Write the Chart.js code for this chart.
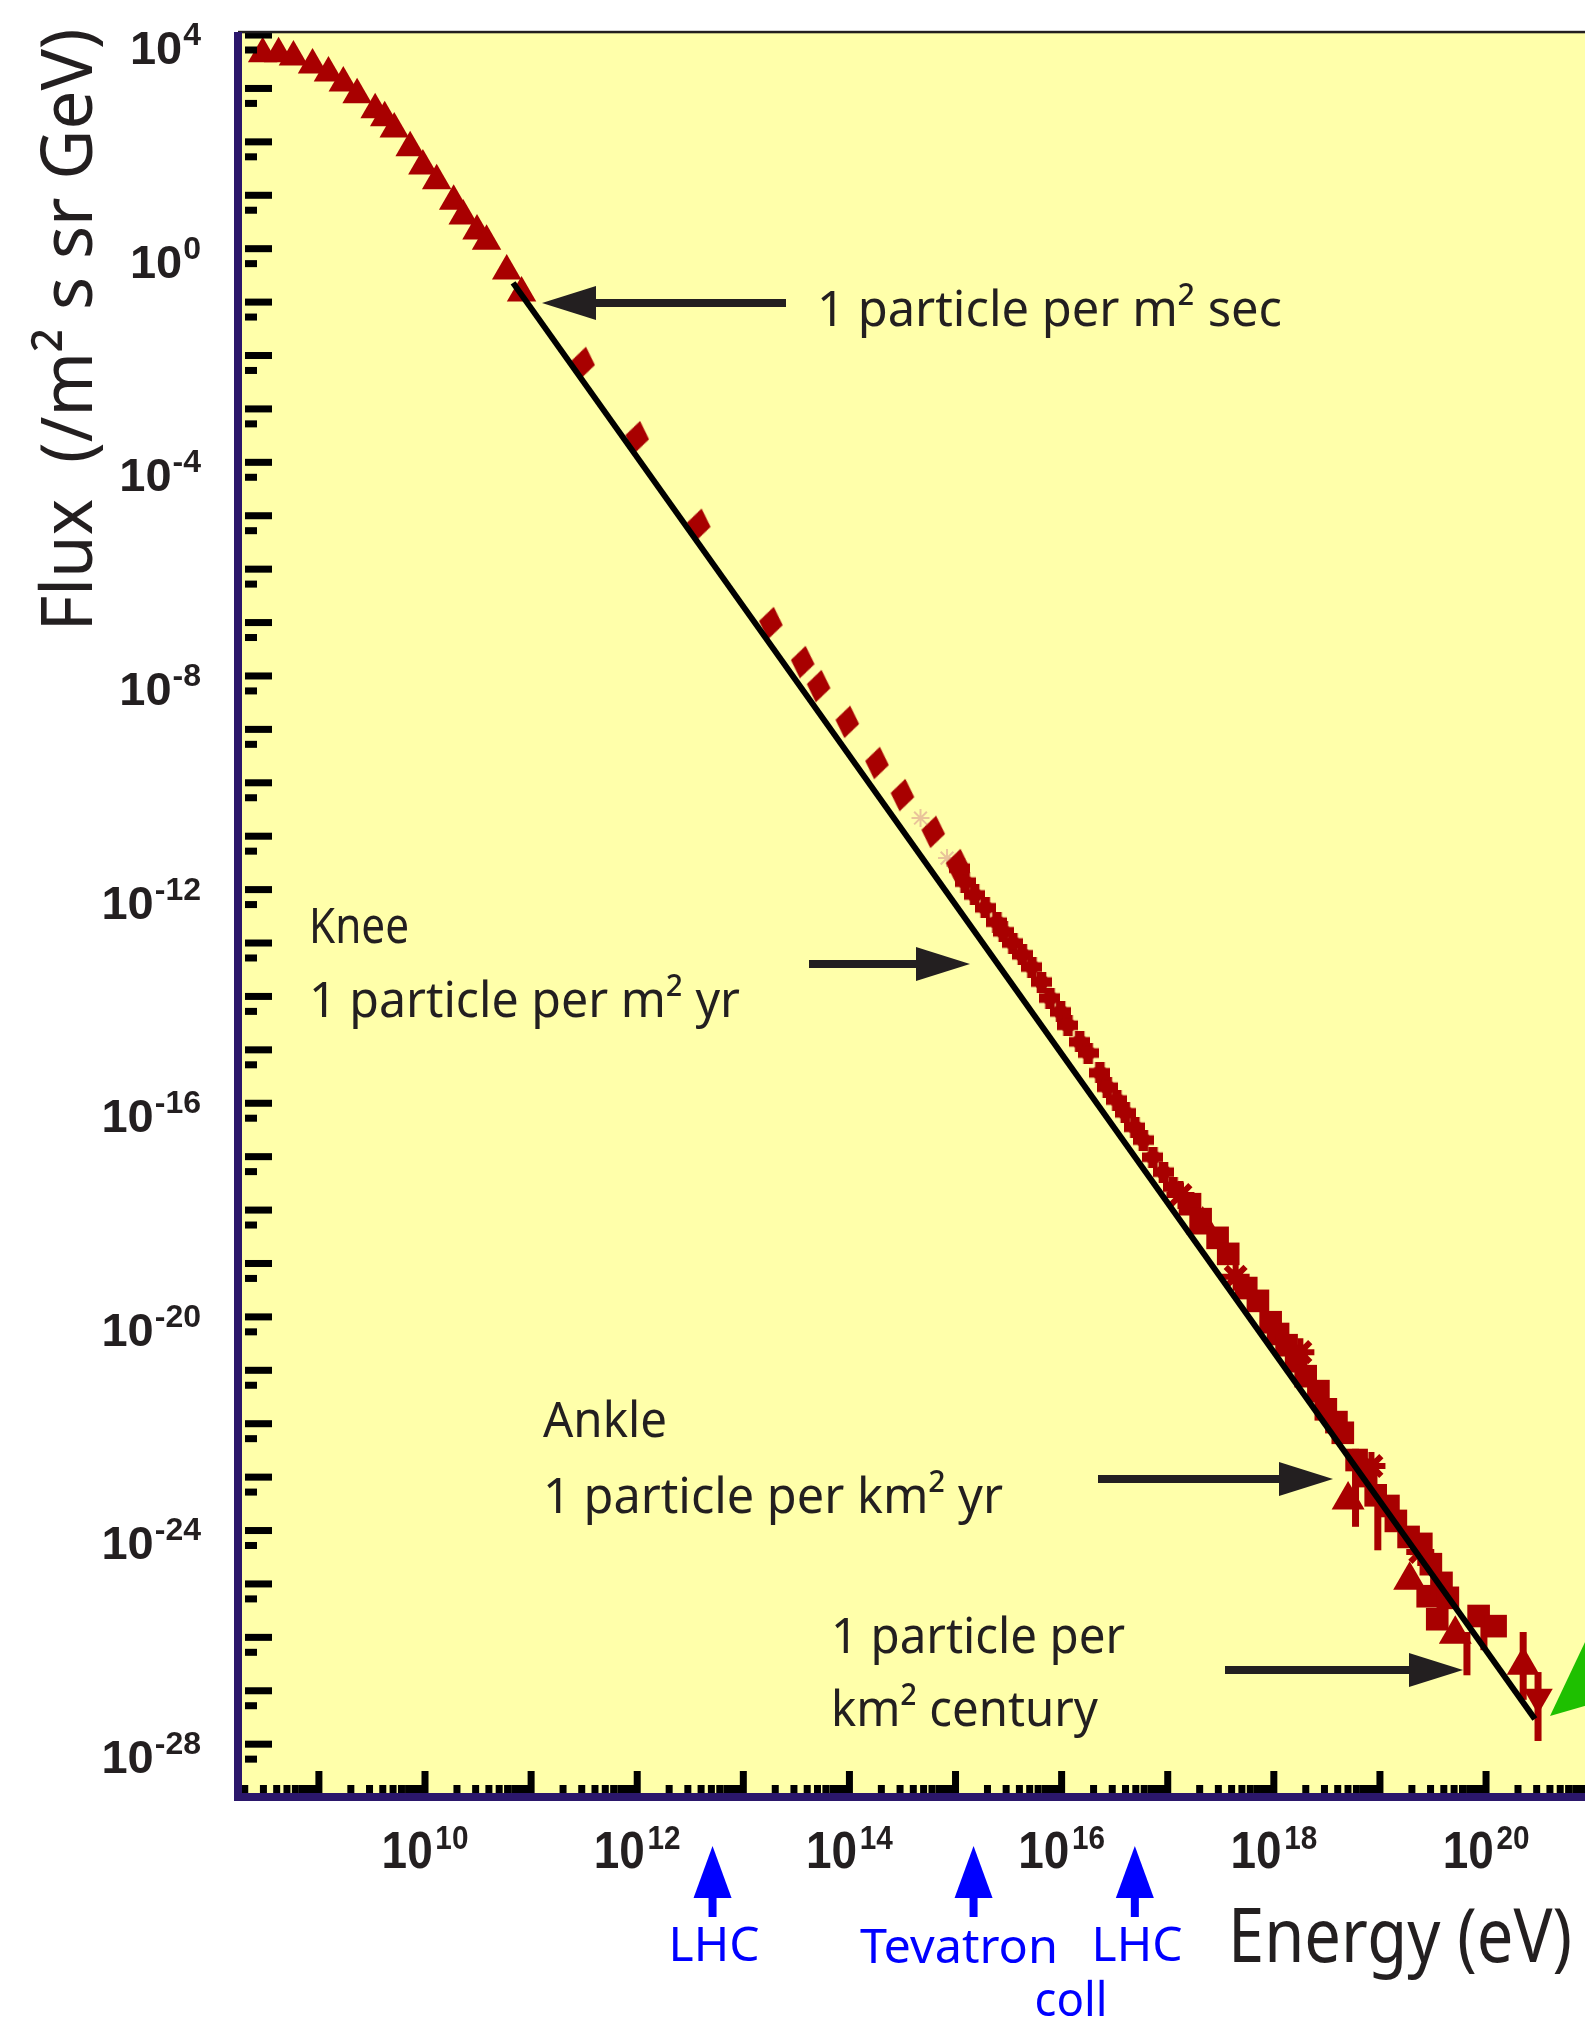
<!DOCTYPE html>
<html>
<head>
<meta charset="utf-8">
<script src="https://cdn.jsdelivr.net/npm/chart.js@4.4.1/dist/chart.umd.min.js"></script>
<style>
  html, body { margin: 0; padding: 0; background: #fff; overflow: hidden; }
  canvas { display: block; }
</style>
</head>
<body>
<canvas id="fluxChart" width="1640" height="2019"></canvas>
<script>
// all values are log10(energy / eV) and log10(flux)
const triLogE = [8.47, 8.62, 8.76, 8.94, 9.09, 9.23, 9.36, 9.53, 9.62, 9.71, 9.86, 9.98, 10.11, 10.27, 10.36, 10.49, 10.58, 10.77, 10.91];
const triLogF = [3.93, 3.93, 3.87, 3.72, 3.57, 3.38, 3.16, 2.88, 2.73, 2.52, 2.17, 1.83, 1.55, 1.17, 0.89, 0.61, 0.42, -0.14, -0.55];

const diaLogE = [11.49, 12.00, 12.58, 13.26, 13.56, 13.71, 13.98, 14.26, 14.50, 14.79, 15.02];
const diaLogF = [-1.86, -3.25, -4.89, -6.73, -7.46, -7.91, -8.58, -9.35, -9.95, -10.64, -11.26];

const astLogE = [14.67, 14.92];
const astLogF = [-10.38, -11.13];

const crossLogE = [15.04, 15.09, 15.18, 15.28, 15.39, 15.45, 15.54, 15.63, 15.72, 15.81, 15.89, 15.99, 16.06, 16.17, 16.25, 16.36, 16.43, 16.52, 16.60, 16.69, 16.77, 16.86, 16.96, 17.05];
const crossLogF = [-11.32, -11.58, -11.82, -12.06, -12.33, -12.51, -12.72, -12.94, -13.17, -13.45, -13.75, -14.01, -14.26, -14.57, -14.78, -15.15, -15.42, -15.66, -15.90, -16.17, -16.41, -16.73, -17.01, -17.29];

const sqLogE = [17.21, 17.31, 17.47, 17.57, 17.74, 17.85, 17.97, 18.04, 18.12, 18.21, 18.30, 18.42, 18.49, 18.59, 18.65, 18.78, 18.87, 18.96, 19.08, 19.15, 19.27, 19.39, 19.45, 19.48, 19.54, 19.58, 19.64, 19.93, 20.09];
const sqLogF = [-17.61, -17.89, -18.24, -18.54, -19.18, -19.42, -19.82, -20.04, -20.25, -20.55, -20.83, -21.11, -21.45, -21.69, -21.89, -22.40, -22.70, -23.06, -23.26, -23.54, -23.84, -23.97, -24.95, -24.35, -25.38, -24.70, -24.98, -25.32, -25.51];

const starLogE = [17.12, 17.64, 18.25, 18.92, 19.38];
const starLogF = [-17.44, -18.97, -20.38, -22.51, -24.12];

const bigTriLogE = [17.33, 18.70, 19.28, 19.71, 20.35];
const bigTriLogF = [-18.00, -23.15, -24.65, -25.66, -26.24];

const downTriLogE = [20.49];
const downTriLogF = [-26.84];

// vertical error bars
const errLogE = [18.77, 18.98, 19.82, 19.98, 20.35, 20.49];
const errLogLow = [-23.65, -24.09, -26.43, -25.96, -26.89, -27.66];
const errLogHigh = [-22.19, -23.11, -25.62, -25.25, -25.62, -26.37];

// straight power law drawn over the data
const fitLogE = [10.83, 20.46];
const fitLogF = [-0.36, -27.25];

// axes
const xMinLog = 8.2375, xMaxLog = 21.451;
const yMinLog = -28.709, yMaxLog = 4.337;
const xLabelExps = [10, 12, 14, 16, 18, 20];
const yLabelExps = [4, 0, -4, -8, -12, -16, -20, -24, -28];

// accelerator energies marked under the axis
const accelNames = ['LHC', 'Tevatron', 'LHC'];
const accelLogE = [12.71, 15.17, 16.69];

const RED = '#a80000';
const INK = '#231f20';
const NAVY = '#2b176b';
const HAND = "'Comic Sans MS', 'Noto Sans', sans-serif";
const NUM = "'Liberation Sans', Arial, sans-serif";

const pts = (xs, ys) => xs.map((e, i) => ({ x: 10 ** e, y: 10 ** ys[i] }));

function makeDiamond(w, h) {
    const c = document.createElement('canvas');
    c.width = w; c.height = h;
    const g = c.getContext('2d');
    g.fillStyle = RED;
    g.beginPath();
    g.moveTo(w / 2, 0); g.lineTo(w, h / 2); g.lineTo(w / 2, h); g.lineTo(0, h / 2);
    g.closePath(); g.fill();
    return c;
}

// chunky plus with a round middle, like the knee-region markers
function makeBlobCross(s) {
    const c = document.createElement('canvas');
    c.width = s; c.height = s;
    const g = c.getContext('2d');
    const arm = s * 0.46;
    g.fillStyle = RED;
    g.fillRect((s - arm) / 2, 0, arm, s);
    g.fillRect(0, (s - arm) / 2, s, arm);
    g.beginPath();
    g.arc(s / 2, s / 2, s * 0.36, 0, Math.PI * 2);
    g.fill();
    return c;
}

// text squeezed/stretched to the width it has in the picture
function fitText(ctx, text, x, y, width, font, align) {
    ctx.save();
    ctx.font = font;
    ctx.textAlign = 'left';
    ctx.textBaseline = 'alphabetic';
    const sx = width / ctx.measureText(text).width;
    ctx.translate(align === 'center' ? x - width / 2 : x, y);
    ctx.scale(sx, 1);
    ctx.fillText(text, 0, 0);
    ctx.restore();
}

function drawPower(ctx, exp, x, y, o) {
    ctx.save();
    ctx.textAlign = 'left';
    ctx.textBaseline = 'alphabetic';
    ctx.font = o.base; const bw = ctx.measureText('10').width;
    ctx.font = o.sup; const ew = ctx.measureText(exp).width;
    const total = (bw + o.gap + ew) * o.sx;
    ctx.translate(o.align === 'right' ? x - total : x - total / 2, y);
    ctx.scale(o.sx, 1);
    ctx.font = o.base; ctx.fillText('10', 0, 0);
    ctx.font = o.sup; ctx.fillText(exp, bw + o.gap, -o.rise);
    ctx.restore();
}

function arrow(ctx, x1, y1, x2, y2, head, half, width) {
    const ang = Math.atan2(y2 - y1, x2 - x1);
    const len = Math.hypot(x2 - x1, y2 - y1);
    ctx.save();
    ctx.translate(x1, y1);
    ctx.rotate(ang);
    ctx.fillRect(0, -width / 2, len - head + 2, width);
    ctx.beginPath();
    ctx.moveTo(len, 0); ctx.lineTo(len - head, -half); ctx.lineTo(len - head, half);
    ctx.closePath(); ctx.fill();
    ctx.restore();
}

const notes = [
    { t: '1 particle per m² sec', x: 817, y: 326, w: 465 },
    { t: 'Knee', x: 309, y: 943, w: 100 },
    { t: '1 particle per m² yr', x: 309, y: 1017, w: 431 },
    { t: 'Ankle', x: 543, y: 1437, w: 124 },
    { t: '1 particle per km² yr', x: 543, y: 1513, w: 460 },
    { t: '1 particle per', x: 831, y: 1653, w: 294 },
    { t: 'km² century', x: 831, y: 1726, w: 267 }
];
const pointers = [
    { x1: 786, x2: 542, y: 303 },
    { x1: 809, x2: 970, y: 964 },
    { x1: 1098, x2: 1333, y: 1479 },
    { x1: 1225, x2: 1463, y: 1670 }
];
const accelText = [
    { t: 'LHC', x: 714, y: 1961, w: 91 },
    { t: 'Tevatron', x: 959, y: 1963, w: 198 },
    { t: 'LHC', x: 1137, y: 1961, w: 91 },
    { t: 'coll', x: 1071, y: 2016, w: 73 }
];

const fluxDecor = {
    id: 'fluxDecor',
    beforeDraw(chart) {
        const { ctx, chartArea: a } = chart;
        ctx.save();
        ctx.fillStyle = '#ffffaa';
        ctx.fillRect(a.left, a.top, a.right - a.left, a.bottom - a.top);
        ctx.restore();
    },
    beforeDatasetsDraw(chart) {
        const { ctx, scales: { x, y } } = chart;
        ctx.save();
        ctx.fillStyle = RED;
        errLogE.forEach((e, i) => {
            const px = x.getPixelForValue(10 ** e);
            const top = y.getPixelForValue(10 ** errLogHigh[i]);
            const bot = y.getPixelForValue(10 ** errLogLow[i]);
            ctx.fillRect(px - 3.5, top, 7, bot - top);
        });
        ctx.restore();
    },
    afterDatasetsDraw(chart) {
        const { ctx, chartArea: a, scales: { x, y } } = chart;
        ctx.save();

        // green wedge at the right edge
        ctx.fillStyle = '#1ec000';
        ctx.beginPath();
        ctx.moveTo(1550, 1716); ctx.lineTo(1640, 1526); ctx.lineTo(1640, 1690);
        ctx.closePath(); ctx.fill();

        // ticks on the y axis: short at each decade, long a little above
        ctx.fillStyle = '#000';
        for (let n = Math.ceil(yMinLog); n <= Math.floor(yMaxLog); n++) {
            const ps = y.getPixelForValue(10 ** n);
            ctx.fillRect(a.left + 7, ps - 3.5, 12, 7);
            const pl = y.getPixelForValue(10 ** (n + 0.28));
            if (pl > a.top - 4) ctx.fillRect(a.left + 7, pl - 3.5, 27, 7);
        }
        // ticks on the x axis: long at decades, short at 2..9
        for (let d = Math.floor(xMinLog); d <= Math.ceil(xMaxLog); d++) {
            for (let m = 1; m <= 9; m++) {
                const v = m * 10 ** d;
                if (v < 10 ** xMinLog || v > 10 ** xMaxLog) continue;
                const px = x.getPixelForValue(v);
                const h = m === 1 ? 26 : 12;
                ctx.fillRect(px - 3.5, a.bottom - h, 7, h);
            }
        }

        // frame
        ctx.fillStyle = INK;
        ctx.fillRect(a.left, a.top - 1.2, a.right - a.left, 2.5);
        ctx.fillStyle = NAVY;
        ctx.fillRect(a.left - 4, a.top, 8, a.bottom - a.top + 4);
        ctx.fillRect(a.left - 4, a.bottom - 4, a.right - a.left + 4, 8);

        // tick labels
        ctx.fillStyle = INK;
        yLabelExps.forEach(n => {
            const py = y.getPixelForValue(10 ** n);
            drawPower(ctx, String(n), 201, py + 14,
                { base: 'bold 47px ' + NUM, sup: 'bold 32px ' + NUM, gap: 1, rise: 19, sx: 1, align: 'right' });
        });
        xLabelExps.forEach(n => {
            const px = x.getPixelForValue(10 ** n);
            drawPower(ctx, String(n), px, 1868,
                { base: 'bold 51px ' + NUM, sup: 'bold 33px ' + NUM, gap: 3, rise: 19, sx: 0.9, align: 'center' });
        });

        // axis titles
        ctx.save();
        ctx.translate(92, 330);
        ctx.rotate(-Math.PI / 2);
        fitText(ctx, 'Flux  (/m² s sr GeV)', 0, 0, 603, '72px ' + HAND, 'center');
        ctx.restore();
        fitText(ctx, 'Energy (eV)', 1228, 1962, 344, '74px ' + HAND);

        // notes and black arrows
        notes.forEach(n => fitText(ctx, n.t, n.x, n.y, n.w, '50px ' + HAND));
        pointers.forEach(p => arrow(ctx, p.x1, p.y, p.x2, p.y, 54, 17, 8));

        // accelerator markers
        ctx.fillStyle = '#0000ff';
        accelLogE.forEach(e => {
            const px = x.getPixelForValue(10 ** e);
            arrow(ctx, px, 1917, px, 1846, 52, 19, 8);
        });
        accelText.forEach(n => fitText(ctx, n.t, n.x, n.y, n.w, '48px ' + HAND, 'center'));

        ctx.restore();
    }
};

new Chart(document.getElementById('fluxChart'), {
    type: 'scatter',
    data: {
        datasets: [
            { data: pts(fitLogE, fitLogF), showLine: true, borderColor: '#000', borderWidth: 6, pointRadius: 0 },
            { data: pts(triLogE, triLogF), pointStyle: 'triangle', pointRadius: 17, backgroundColor: RED, borderWidth: 0 },
            { data: pts(diaLogE, diaLogF), pointStyle: makeDiamond(24, 33), pointRotation: 10, pointRadius: 16 },
            { data: pts(astLogE, astLogF), pointStyle: 'star', pointRadius: 9, borderColor: '#e9c49a', borderWidth: 2 },
            { data: pts(crossLogE, crossLogF), pointStyle: makeBlobCross(21), pointRadius: 10 },
            { data: pts(sqLogE, sqLogF), pointStyle: 'rect', pointRadius: 16, backgroundColor: RED, borderWidth: 0 },
            { data: pts(starLogE, starLogF), pointStyle: 'star', pointRadius: 14, borderColor: RED, borderWidth: 6 },
            { data: pts(bigTriLogE, bigTriLogF), pointStyle: 'triangle', pointRadius: 19, backgroundColor: RED, borderWidth: 0 },
            { data: pts(downTriLogE, downTriLogF), pointStyle: 'triangle', pointRotation: 180, pointRadius: 17, backgroundColor: RED, borderWidth: 0 }
        ]
    },
    options: {
        responsive: false,
        animation: false,
        devicePixelRatio: 1,
        events: [],
        layout: { autoPadding: false, padding: { left: 238, top: 32, right: 0, bottom: 222 } },
        plugins: { legend: { display: false }, tooltip: { enabled: false } },
        scales: {
            x: { type: 'logarithmic', display: false, bounds: 'data', min: 10 ** xMinLog, max: 10 ** xMaxLog },
            y: { type: 'logarithmic', display: false, bounds: 'data', min: 10 ** yMinLog, max: 10 ** yMaxLog }
        }
    },
    plugins: [fluxDecor]
});
</script>
</body>
</html>
